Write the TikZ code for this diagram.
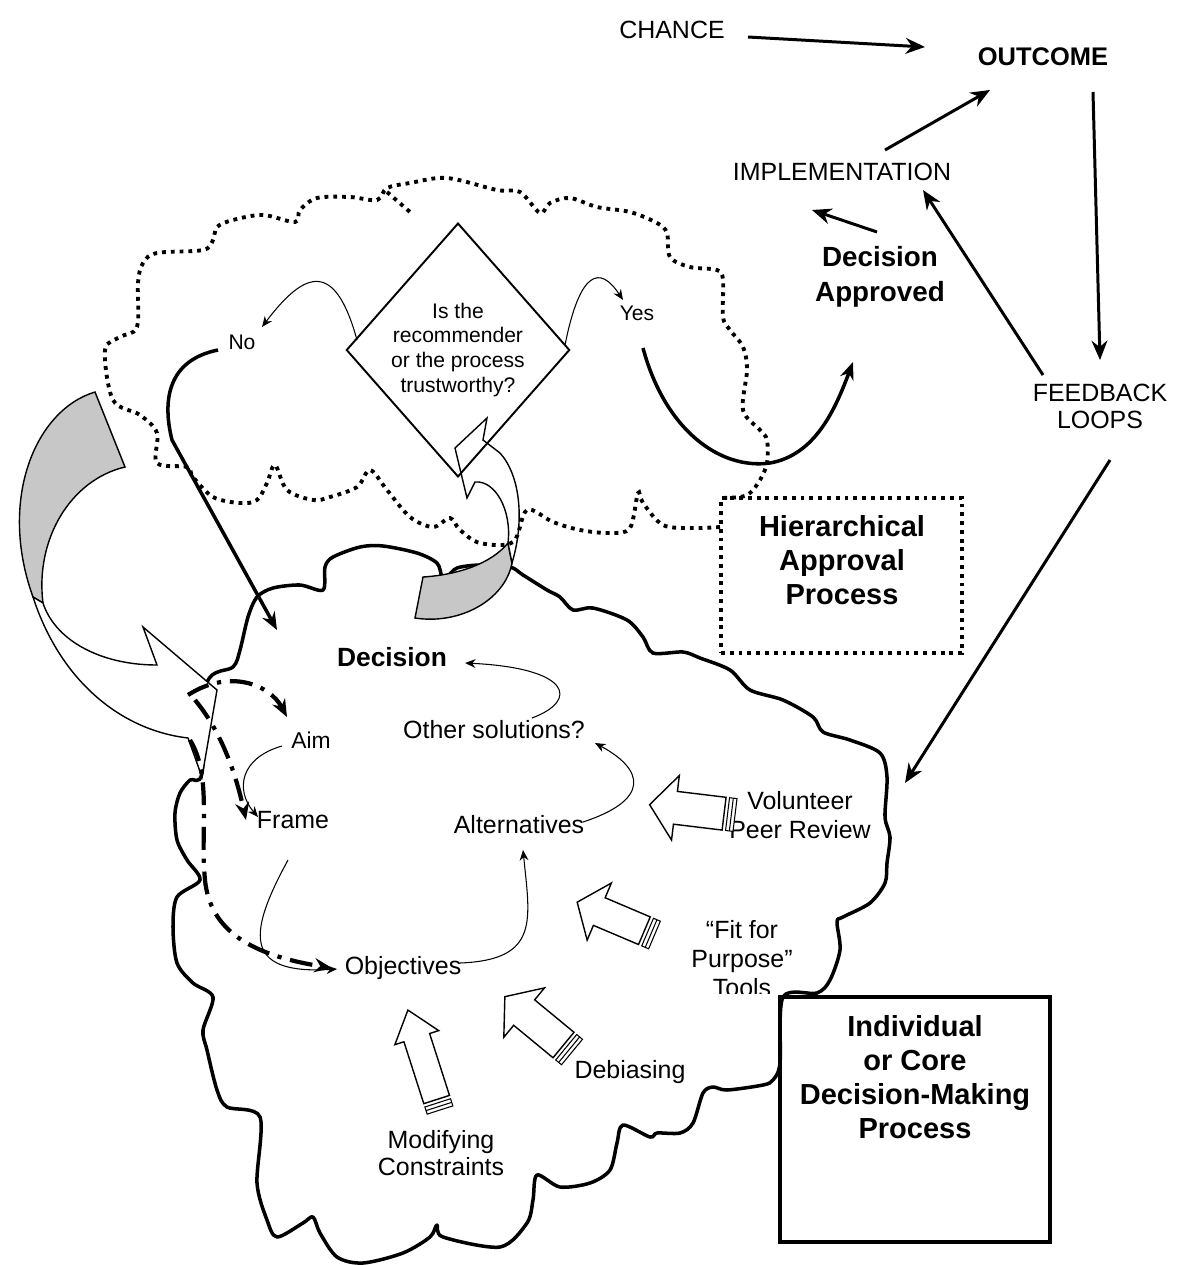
\documentclass[tikz,border=0pt]{standalone}
\usepackage{fontspec}
\setmainfont{Liberation Sans}
\usetikzlibrary{arrows.meta,shapes.geometric,calc}

\tikzset{
  lbl/.style={font=\fontsize{14.2}{16.5}\selectfont, inner sep=1pt, align=center},
  smalllbl/.style={font=\fontsize{12}{14.2}\selectfont, inner sep=1pt, align=center},
  headlbl/.style={font=\bfseries\fontsize{15.8}{19.8}\selectfont, inner sep=1pt, align=center},
  boxlbl/.style={font=\bfseries\fontsize{16.5}{19.3}\selectfont, inner sep=1pt, align=center},
  bigarrow/.style={line width=1.7pt, -{Stealth[length=11pt,width=9pt]}},
  curvearrow/.style={line width=2pt, -{Stealth[length=10pt,width=8pt]}},
  thinarrow/.style={line width=0.6pt, -{Stealth[length=6pt,width=5pt]}},
  dashdotarrow/.style={line width=2.4pt, dash pattern=on 13pt off 5pt on 2.4pt off 5pt, -{Stealth[length=10pt,width=8pt]}},
  dotline/.style={line width=2.2pt, dash pattern=on 2.2pt off 2.8pt},
  cloudline/.style={line width=2pt, line join=round},
  blockarrow/.style={draw, fill=white, line width=0.8pt},
  stripe/.style={draw, line width=0.6pt},
  ribbon/.style={draw, line width=0.8pt, line join=miter},
}

% striped block arrow: tail, angle, length, half shaft, half head, head length
\newcommand{\stripearrow}[6]{%
  \begin{scope}[shift={#1}, rotate=#2]
    \draw[blockarrow] (11,-#4) -- ({#3-#6},-#4) -- ({#3-#6},-#5) -- (#3,0) -- ({#3-#6},#5) -- ({#3-#6},#4) -- (11,#4) -- cycle;
    \draw[stripe, fill=white] (0,-#4) rectangle (7.5,#4);
    \draw[stripe] (3.7,-#4) -- (3.7,#4);
  \end{scope}}

\begin{document}
\begin{tikzpicture}[x=0.02cm, y=-0.02cm]
\useasboundingbox (0,0) rectangle (1179,1265);

% core decision cloud
\draw[cloudline] plot[smooth cycle, tension=0.5] coordinates {
  (202,773) (207,683) (233,667) (240,650) (248,617) (257,597) (273,588) (300,585)
  (323,590) (325,567) (333,557) (360,547) (383,546) (417,553) (437,563) (442,577)
  (447,577) (457,568) (480,565) (510,567) (523,575) (547,590) (560,597) (573,610)
  (593,608) (627,620) (643,637) (653,653) (683,652) (700,658) (730,670) (750,690)
  (783,700) (813,717) (823,732) (850,740) (880,753) (887,777) (885,817) (890,837)
  (887,863) (885,883) (870,903) (843,917) (837,922) (840,950) (830,980) (817,993)
  (783,997) (780,1063) (773,1080) (763,1085) (727,1090) (713,1087) (703,1093) (693,1123)
  (680,1133) (657,1133) (650,1137) (623,1125) (617,1143) (610,1170) (590,1183) (560,1187)
  (537,1175) (533,1200) (527,1223) (500,1247) (443,1237) (437,1225) (430,1237) (403,1253)
  (363,1263) (337,1257) (320,1233) (313,1217) (303,1223) (277,1237) (267,1220) (257,1183)
  (260,1117) (227,1107) (217,1090) (207,1050) (203,1030) (213,997) (193,983) (177,963)
  (173,927) (177,897) (200,880) (187,860) (177,840) (175,813) (180,793) (190,780)};

% big curved arrow on the left
\filldraw[ribbon, fill=black!22] (95,392) .. controls (35,410) and (-2,500) .. (33,597)
  -- (43,603) .. controls (35,540) and (70,480) .. (125,467) -- cycle;
\filldraw[ribbon, fill=white] (33,597) .. controls (60,680) and (120,730) .. (188,738)
  -- (202,777) -- (217,690) -- (143,627) -- (157,665)
  .. controls (100,665) and (55,640) .. (43,603) -- cycle;

% curved arrow up to the diamond
\filldraw[ribbon, fill=black!22] (415,618) .. controls (460,625) and (505,600) .. (512,563)
  -- (508,543) .. controls (490,565) and (455,575) .. (423,577) -- cycle;
\filldraw[ribbon, fill=white] (512,563) .. controls (525,520) and (520,475) .. (500,453)
  -- (483,440) -- (487,418) -- (455,448) -- (467,498) -- (475,482)
  .. controls (495,480) and (512,510) .. (508,543) -- cycle;

% approval cloud (dotted)
\draw[dotline] plot[smooth, tension=0.55] coordinates {
  (720,527) (693,528) (663,525) (643,503) (638,493) (630,528) (610,533) (580,530)
  (553,522) (527,510) (513,542) (480,543) (460,530) (450,518) (433,527) (410,517)
  (387,490) (370,470) (357,487) (330,497) (313,500) (287,490) (275,465) (267,483)
  (257,500) (240,503) (213,497) (193,477) (187,467) (157,463) (157,433) (140,415)
  (113,400) (105,350) (120,337) (137,327) (138,283) (143,263) (157,253) (203,250)
  (213,240) (217,227) (233,220) (263,215) (295,222) (300,210) (317,198) (350,197)
  (377,200) (387,188) (410,183) (447,178) (497,190) (520,192) (540,213) (550,203)
  (570,198) (597,207) (630,212) (657,223) (667,233) (670,257) (690,267) (717,270)
  (723,280) (723,317) (730,330) (743,347) (747,370) (743,410) (760,430) (767,440)
  (767,463) (760,480) (750,493) (740,497) (721,498)};
\draw[dotline] (387,192) -- (410,212);

% process boxes
\node[draw, dotline, minimum width=4.82cm, minimum height=3.1cm] (hier) at (841.5,575.5) {};
\node[boxlbl] (hiertxt) at (842,560) {Hierarchical\\Approval\\Process};
\node[draw, line width=2.2pt, minimum width=5.4cm, minimum height=4.9cm] (core) at (915,1119.5) {};
\node[boxlbl] (coretxt) at (915,1077) {Individual\\or Core\\Decision-Making\\Process};

% outcome side
\node[lbl] (chance) at (672,30) {CHANCE};
\node[font=\bfseries\fontsize{14.5}{17}\selectfont, inner sep=1pt] (outcome) at (1043,57) {OUTCOME};
\node[lbl] (impl) at (842,172) {IMPLEMENTATION};
\node[headlbl] (approved) at (880,277) {Decision\\Approved};
\node[lbl, font=\fontsize{14.2}{15.3}\selectfont] (feedback) at (1100,406) {FEEDBACK\\LOOPS};

% approval question
\node[diamond, draw, line width=1.1pt, aspect=0.88, inner sep=0pt,
  minimum width=4.32cm, minimum height=4.92cm, smalllbl] (ask) at (458,350)
  {Is the\\recommender\\or the process\\trustworthy?};
\node[smalllbl] (yes) at (637,313) {Yes};
\node[smalllbl] (no) at (242,342) {No};

% inside the core cloud
\node[font=\bfseries\fontsize{15}{18}\selectfont, inner sep=1pt] (decision) at (392,657) {Decision};
\node[lbl] (other) at (494,730) {Other solutions?};
\node[lbl, font=\fontsize{13}{15}\selectfont] (aim) at (311,740) {Aim};
\node[lbl] (frame) at (293,820) {Frame};
\node[lbl] (alt) at (519,825) {Alternatives};
\node[lbl] (obj) at (403,968) {Objectives};
\node[lbl] (peer) at (800,815) {Volunteer\\Peer Review};
\begin{scope}
  \clip (650,900) rectangle (800,993);
  \node[lbl, font=\fontsize{14.2}{16.5}\selectfont] (fit) at (742,959) {“Fit for\\Purpose”\\Tools};
\end{scope}
\node[lbl] (debias) at (630,1072) {Debiasing};
\node[lbl, font=\fontsize{14.2}{15.3}\selectfont] (modif) at (441,1153) {Modifying\\Constraints};

% striped input arrows
\stripearrow{(735,815)}{173.1}{86}{16.5}{32.5}{26}
\stripearrow{(654.5,935)}{157}{84}{15}{31}{24}
\stripearrow{(572,1052)}{140.5}{87}{16.5}{32}{25}
\stripearrow{(440,1110)}{107.8}{105}{13.5}{23}{29}

% outcome flow
\draw[bigarrow] ($(chance)+(76,7)$) -- ($(outcome)+(-118,-10)$);
\draw[bigarrow] ($(outcome)+(50,35)$) -- ($(feedback)+(0,-46)$);
\draw[bigarrow] ($(impl)+(43,-22)$) -- ($(outcome)+(-53,33)$);
\draw[bigarrow] ($(feedback)+(-57,-31)$) -- ($(impl)+(81,18)$);
\draw[bigarrow] ($(approved)+(-3,-45)$) -- ($(impl)+(-30,38)$);
\draw[bigarrow] ($(feedback)+(10,54)$) -- ($(peer)+(105,-32)$);

% approval answers
\draw[thinarrow] ($(ask)+(-101,-10)$) .. controls +(-22,-80) and +(43,-57) .. ($(no)+(20,-15)$);
\draw[thinarrow] ($(ask)+(107,-5)$) .. controls +(15,-75) and +(-23,-35) .. ($(yes)+(-14,-13)$);
\draw[curvearrow] ($(no)+(-24,8)$) .. controls +(-50,10) and +(-10,-40) .. ++(-46,90)
  -- ($(decision)+(-115,-27)$);
\draw[curvearrow] ($(yes)+(6,35)$) .. controls +(22,82) and +(-50,7) .. ++(127,115)
  .. controls +(45,-8) and +(-18,48) .. ($(approved)+(-27,85)$);

% core process steps
\draw[thinarrow] ($(other)+(38,-12)$) .. controls +(48,-18) and +(105,5) .. ($(decision)+(73,6)$);
\draw[thinarrow] ($(alt)+(64,-3)$) .. controls +(67,-22) and +(50,27) .. ($(other)+(101,13)$);
\draw[thinarrow] ($(obj)+(57,-5)$) .. controls +(80,-3) and +(7,70) .. ($(alt)+(4,25)$);
\draw[thinarrow] ($(aim)+(-29,6)$) .. controls +(-42,12) and +(-23,-27) .. ($(frame)+(-35,-3)$);
\draw[thinarrow] ($(frame)+(-5,40)$) .. controls +(-38,70) and +(-97,6) .. ($(obj)+(-66,1)$);

% dash-dot feeds from the left arrow
\coordinate (src) at (192,700);
\draw[dashdotarrow] ($(src)+(-4,-5)$) .. controls +(42,-27) and +(-17,-32) .. ($(aim)+(-24,-23)$);
\draw[dashdotarrow] ($(src)+(3,0)$) .. controls +(25,30) and +(-11,-50) .. ($(frame)+(-47,0)$);
\draw[dashdotarrow] ($(src)+(-2,40)$) .. controls +(22,35) and +(-5,-50) .. ++(15,140)
  .. controls +(5,50) and +(-82,-13) .. ($(obj)+(-71,0)$);
\end{tikzpicture}
\end{document}
